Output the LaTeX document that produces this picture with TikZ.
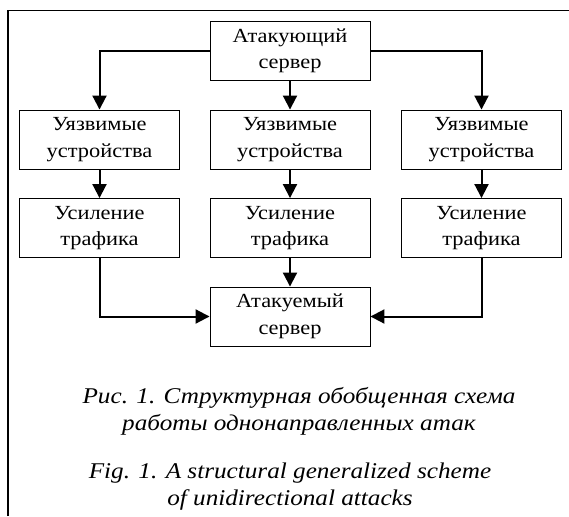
\documentclass[tikz,border=0pt]{standalone}
\usepackage{fontspec}
\setmainfont[FakeStretch=1.12]{Liberation Serif}
\usetikzlibrary{arrows.meta}
\begin{document}
\begin{tikzpicture}[x=1pt,y=-1pt,
  blk/.style={draw, line width=0.9pt, minimum width=160pt, minimum height=59pt,
    align=center, inner sep=0pt, font=\fontsize{20}{26.5}\selectfont},
  link/.style={line width=2pt, -{Triangle[length=14pt,width=14pt]}},
  capt/.style={align=center, inner sep=0pt, font=\itshape\fontsize{22.5}{27}\selectfont}]
\useasboundingbox (0,0) rectangle (569,516);
% frame: left and top rules only
\draw[line width=1.3pt] (8,516) -- (8,10.5) -- (569,10.5);
% blocks
\node[blk] (src) at (290,51) {Атакующий\\сервер};
\node[blk] (v1) at (99.5,139.5) {Уязвимые\\устройства};
\node[blk] (v2) at (290,139.5) {Уязвимые\\устройства};
\node[blk] (v3) at (481.5,139.5) {Уязвимые\\устройства};
\node[blk] (a1) at (99.5,228) {Усиление\\трафика};
\node[blk] (a2) at (290,228) {Усиление\\трафика};
\node[blk] (a3) at (481.5,228) {Усиление\\трафика};
\node[blk] (dst) at (290,316.5) {Атакуемый\\сервер};
% connectors
\draw[link] (src.west) -| (v1.north);
\draw[link] (src.south) -- (v2.north);
\draw[link] (src.east) -| (v3.north);
\draw[link] (v1.south) -- (a1.north);
\draw[link] (v2.south) -- (a2.north);
\draw[link] (v3.south) -- (a3.north);
\draw[link] (a1.south) |- (dst.west);
\draw[link] (a2.south) -- (dst.north);
\draw[link] (a3.south) |- (dst.east);
% captions
\node[capt] (cru) at (299,411.5) {Рис. 1. Структурная обобщенная схема\\работы однонаправленных атак};
\node[capt] (cen) at (290,486.5) {Fig. 1. A structural generalized scheme\\of unidirectional attacks};
\end{tikzpicture}
\end{document}
